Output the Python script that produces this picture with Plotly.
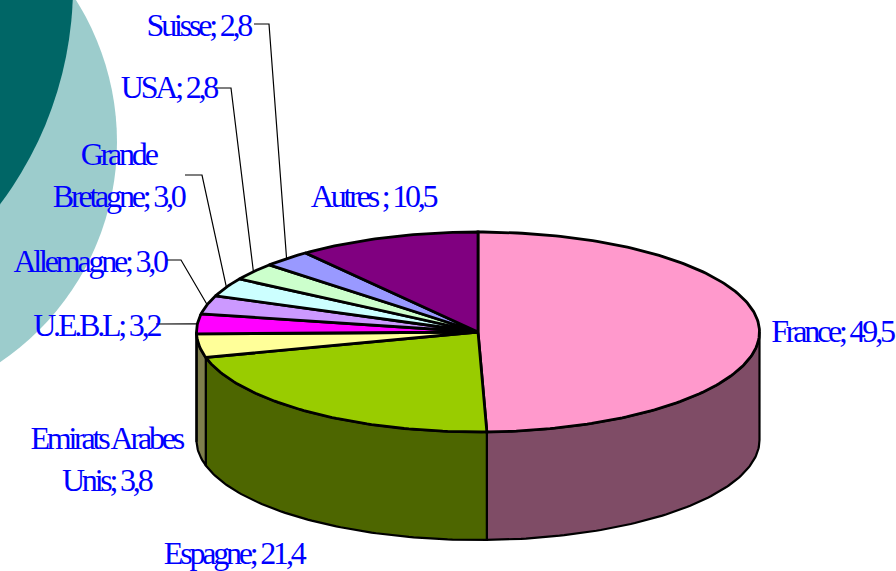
import math
import plotly.graph_objects as go

# Data
countries = ["France", "Espagne", "Emirats Arabes<br>Unis", "U.E.B.L", "Allemagne",
             "Grande<br>Bretagne", "USA", "Suisse", "Autres "]
shares = [49.5, 21.4, 3.8, 3.2, 3.0, 3.0, 2.8, 2.8, 10.5]
share_labels = ["49,5", "21,4", "3,8", "3,2", "3,0", "3,0", "2,8", "2,8", "10,5"]

# Styles
top_colors = ["#FF99CC", "#99CC00", "#FFFF99", "#FF00FF", "#CC99FF",
              "#CCFFFF", "#CCFFCC", "#9999FF", "#800080"]
side_colors = ["#7F4C66", "#4D6600", "#7F7F4C", "#7F007F", "#664C7F",
               "#667F7F", "#667F66", "#4C4C7F", "#400040"]

# Layout of the pie in page pixels
W, H = 896, 571
CX, CY, RX, RY, DEPTH = 478, 332, 281.5, 100, 108
label_pos = [(832, 331), (233, 553), (106, 459), (96, 325), (89, 261),
             (118, 175), (168, 87), (198, 25), (373, 196)]
elbows = {3: (156, 324), 4: (181, 260), 5: (202, 175), 6: (231, 88), 7: (269, 24)}
elbow_starts = {4: 166, 5: 185, 6: 216, 7: 254}


def px(deg):
    return CX + RX * math.sin(math.radians(deg))


def py(deg):
    return CY - RY * math.cos(math.radians(deg))


def arc(a, b):
    n = max(2, int(abs(b - a) / 1.0) + 1)
    return [a + (b - a) * i / (n - 1) for i in range(n)]


total = sum(shares)
angles = [0]
for s in shares:
    angles.append(angles[-1] + 360 * s / total)

fig = go.Figure()

# Leader lines (run to the middle of each slice's rim)
for i, (ex, ey) in elbows.items():
    mid = (angles[i] + angles[i + 1]) / 2
    if i == 3:
        xs, ys = [ex, px(mid)], [ey, py(mid)]
    else:
        xs, ys = [elbow_starts[i], ex, px(mid)], [ey, ey, py(mid)]
    fig.add_trace(go.Scatter(x=xs, y=ys, mode="lines", hoverinfo="skip",
                             line=dict(color="#000000", width=1.2)))

# Visible outer wall: angles 90..270 degrees
for i in range(len(shares)):
    a, b = max(angles[i], 90), min(angles[i + 1], 270)
    if a >= b:
        continue
    th = arc(a, b)
    xs = [px(t) for t in th] + [px(t) for t in reversed(th)]
    ys = [py(t) for t in th] + [py(t) + DEPTH for t in reversed(th)]
    fig.add_trace(go.Scatter(x=xs + xs[:1], y=ys + ys[:1], mode="lines", fill="toself",
                             fillcolor=side_colors[i], hoverinfo="skip",
                             line=dict(color="black", width=2.2)))

# Top face
for i in range(len(shares)):
    th = arc(angles[i], angles[i + 1])
    xs = [CX] + [px(t) for t in th] + [CX]
    ys = [CY] + [py(t) for t in th] + [CY]
    fig.add_trace(go.Scatter(x=xs, y=ys, mode="lines", fill="toself",
                             fillcolor=top_colors[i], hoverinfo="skip",
                             line=dict(color="black", width=2.8)))

for name, val, (lx, ly) in zip(countries, share_labels, label_pos):
    fig.add_annotation(x=lx, y=ly, text=f"{name}; {val}", showarrow=False,
                       xanchor="center", yanchor="middle", align="center",
                       font=dict(family="Liberation Serif", size=32, color="#0000FF"))

fig.update_layout(
    width=W, height=H, margin=dict(l=0, r=0, t=0, b=0), showlegend=False,
    paper_bgcolor="white", plot_bgcolor="white",
    xaxis=dict(range=[0, W], visible=False, fixedrange=True),
    yaxis=dict(range=[H, 0], visible=False, fixedrange=True),
    shapes=[
        dict(type="circle", xref="x", yref="y", layer="below", line_width=0,
             fillcolor="#9CCCCC", x0=-149 - 266, x1=-149 + 266, y0=142 - 266, y1=142 + 266),
        dict(type="circle", xref="x", yref="y", layer="below", line_width=0,
             fillcolor="#006666", x0=-290 - 363, x1=-290 + 363, y0=-14 - 363, y1=-14 + 363),
    ],
)

css = (".annotation-text{letter-spacing:-3.2px}"
       "html,body{margin:0;padding:0;overflow:hidden}")
post = ("var s=document.createElement('style');s.textContent=%r;"
        "document.head.appendChild(s);" % css)
fig.write_html("out.html", post_script=post, config=dict(displayModeBar=False))
